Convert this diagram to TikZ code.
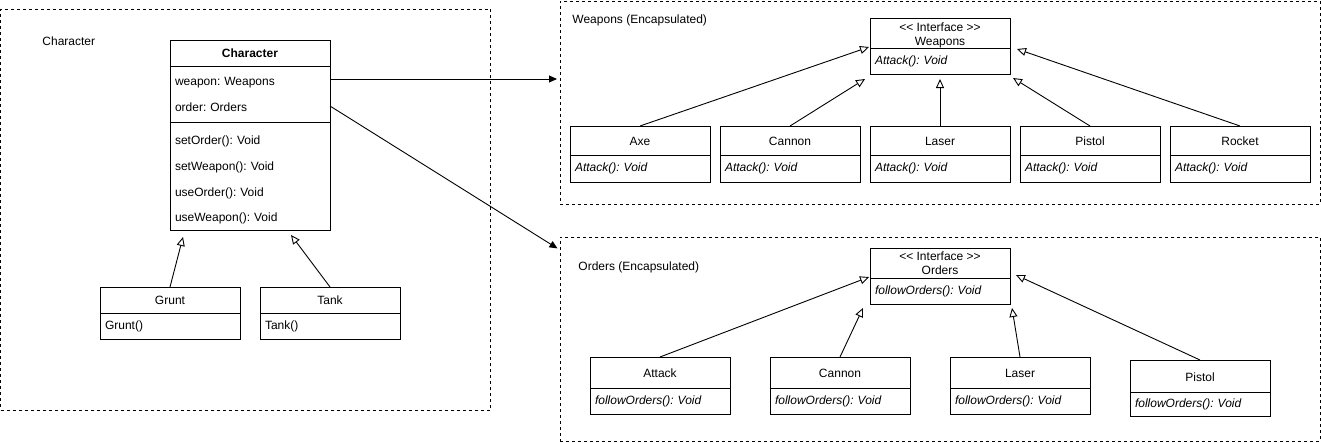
\documentclass[tikz,border=0pt]{standalone}
\usepackage{fontspec}
\setmainfont{Liberation Sans}
\usepackage{tikz}
\usetikzlibrary{arrows.meta,positioning}
\frenchspacing
\tikzset{
  classhead/.style={draw,outer sep=0pt,inner sep=0pt,minimum width=140pt,align=center,font=\fontsize{12}{14}\selectfont},
  classbody/.style={draw,outer sep=0pt,inner xsep=5pt,inner ysep=0pt,text width=130pt,align=left,font=\fontsize{12}{14}\selectfont},
  groupbox/.style={draw,dash pattern=on 3pt off 3pt,outer sep=0pt,inner sep=0pt,anchor=north west},
  grouplabel/.style={anchor=west,inner sep=0pt,font=\fontsize{12}{14}\selectfont},
  inherit/.style={-{Triangle[open,fill=white,length=9pt,width=8pt]}},
  assoc/.style={-{Triangle[length=8pt,width=7pt]}}
}

\begin{document}
\begin{tikzpicture}[x=1pt,y=-1pt,line width=0.9pt]
  \useasboundingbox (0,0) rectangle (1321,442);
  % groups
  \node[groupbox,minimum width=490pt,minimum height=401pt] (chargroup) at (0.5,9) {};
  \node[grouplabel] (chartitle) at (42,41) {Character};
  \node[groupbox,minimum width=760pt,minimum height=203pt] (weapgroup) at (560,1) {};
  \node[grouplabel] (weaptitle) at (572,20) {Weapons (Encapsulated)};
  \node[groupbox,minimum width=760pt,minimum height=204pt] (ordgroup) at (560,237) {};
  \node[grouplabel] (ordtitle) at (578,267) {Orders (Encapsulated)};

  % Character
  \node[classhead,minimum width=160pt,minimum height=26pt,anchor=north west] (character) at (170,40) {\textbf{Character}};
  \node[classbody,text width=150pt,minimum height=56pt,below=0pt of character,font=\fontsize{12}{26}\selectfont] (charattr) {\rule{0pt}{7pt}weapon: Weapons\\order: Orders};
  \node[classbody,text width=150pt,minimum height=108pt,below=0pt of charattr,font=\fontsize{12}{25.8}\selectfont] (charmeth) {\rule{0pt}{17pt}setOrder(): Void\\setWeapon(): Void\\useOrder(): Void\\useWeapon(): Void};
  \node[classhead,minimum height=26pt,anchor=north west] (grunt) at (100,287) {Grunt};
  \node[classbody,minimum height=26pt,below=0pt of grunt] (gruntb) {Grunt()};
  \node[classhead,minimum height=26pt,anchor=north west] (tank) at (260,287) {Tank};
  \node[classbody,minimum height=26pt,below=0pt of tank] (tankb) {Tank()};
  \coordinate (grunttip) at (183,237);
  \coordinate (tanktip) at (291,235);
  \draw[inherit] (grunt.north) -- (grunttip);
  \draw[inherit] (tank.north) -- (tanktip);

  % Weapons
  \node[classhead,minimum height=30pt,anchor=north west] (weapons) at (870,18.5) {\rule{0pt}{12pt}{<}{<} Interface {>}{>}\\Weapons};
  \node[classbody,minimum height=26pt,below=0pt of weapons] (weaponsb) {\textit{Attack(): Void}};
  \node[classhead,minimum height=29pt,anchor=north west] (axe) at (570,126) {\rule{0pt}{10pt}Axe};
  \node[classbody,minimum height=27pt,below=0pt of axe] (axeb) {\textit{Attack(): Void}};
  \node[classhead,minimum height=29pt,anchor=north west] (cannon) at (720,126) {\rule{0pt}{10pt}Cannon};
  \node[classbody,minimum height=27pt,below=0pt of cannon] (cannonb) {\textit{Attack(): Void}};
  \node[classhead,minimum height=29pt,anchor=north west] (laser) at (870,126) {\rule{0pt}{10pt}Laser};
  \node[classbody,minimum height=27pt,below=0pt of laser] (laserb) {\textit{Attack(): Void}};
  \node[classhead,minimum height=29pt,anchor=north west] (pistol) at (1020,126) {\rule{0pt}{10pt}Pistol};
  \node[classbody,minimum height=27pt,below=0pt of pistol] (pistolb) {\textit{Attack(): Void}};
  \node[classhead,minimum height=29pt,anchor=north west] (rocket) at (1170,126) {\rule{0pt}{10pt}Rocket};
  \node[classbody,minimum height=27pt,below=0pt of rocket] (rocketb) {\textit{Attack(): Void}};
  \coordinate (axetip) at (869,47);
  \coordinate (cannontip) at (865,79);
  \coordinate (lasertip) at (940,79);
  \coordinate (pistoltip) at (1013,78);
  \coordinate (rockettip) at (1017,49);
  \draw[inherit] (axe.north) -- (axetip);
  \draw[inherit] (cannon.north) -- (cannontip);
  \draw[inherit] (laser.north) -- (lasertip);
  \draw[inherit] (pistol.north) -- (pistoltip);
  \draw[inherit] (rocket.north) -- (rockettip);

  % Orders
  \node[classhead,minimum height=30pt,anchor=north west] (orders) at (870,248) {{<}{<} Interface {>}{>}\\Orders};
  \node[classbody,minimum height=26pt,below=0pt of orders] (ordersb) {\textit{followOrders(): Void}};
  \node[classhead,minimum height=31pt,anchor=north west] (attack) at (590,357) {\rule{0pt}{11pt}Attack};
  \node[classbody,minimum height=26pt,below=0pt of attack] (attackb) {\textit{followOrders(): Void}};
  \node[classhead,minimum height=31pt,anchor=north west] (cannono) at (770,357) {\rule{0pt}{11pt}Cannon};
  \node[classbody,minimum height=26pt,below=0pt of cannono] (cannonob) {\textit{followOrders(): Void}};
  \node[classhead,minimum height=31pt,anchor=north west] (lasero) at (950,357) {\rule{0pt}{11pt}Laser};
  \node[classbody,minimum height=26pt,below=0pt of lasero] (laserob) {\textit{followOrders(): Void}};
  \node[classhead,minimum height=32pt,anchor=north west] (pistolo) at (1130,360) {\rule{0pt}{11pt}Pistol};
  \node[classbody,minimum height=24pt,below=0pt of pistolo] (pistolob) {\textit{followOrders(): Void}};
  \coordinate (attacktip) at (869,277);
  \coordinate (cannonotip) at (863,308);
  \coordinate (laserotip) at (1012,308);
  \coordinate (pistolotip) at (1016,275);
  \draw[inherit] (attack.north) -- (attacktip);
  \draw[inherit] (cannono.north) -- (cannonotip);
  \draw[inherit] (lasero.north) -- (laserotip);
  \draw[inherit] (pistolo.north) -- (pistolotip);

  % associations
  \draw[assoc,shorten >=3pt] ([yshift=-13pt]charattr.north east) -- ([yshift=-13pt]charattr.north east -| weapgroup.west);
  \draw[assoc,shorten >=3pt] ([yshift=-40pt]charattr.north east) -- ([yshift=-13pt]ordgroup.north west);
\end{tikzpicture}
\end{document}
